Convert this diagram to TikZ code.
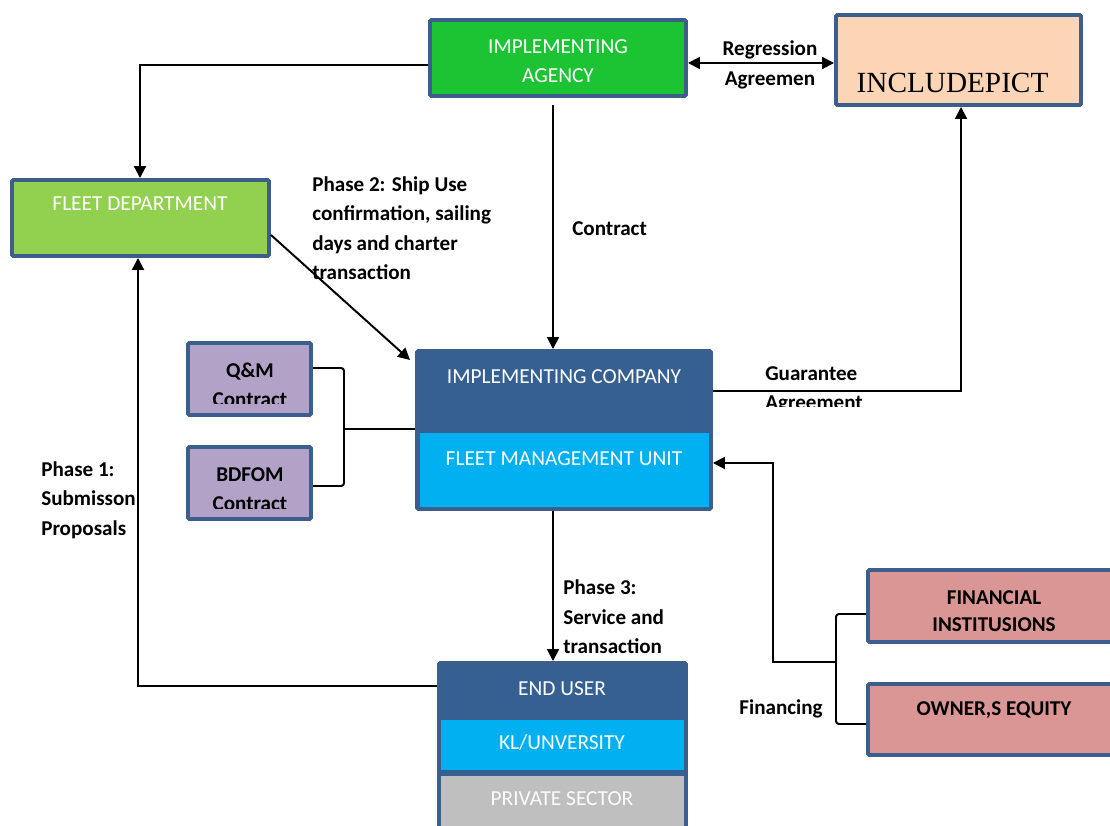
\documentclass[tikz,border=0pt]{standalone}
\usepackage{fontspec}
\setmainfont{Carlito}
\newfontfamily\pictfont{Liberation Serif}
\usetikzlibrary{arrows.meta,calc}
\definecolor{bord}{HTML}{3B5E8C}
\definecolor{agreen}{HTML}{1CC434}
\definecolor{fgreen}{HTML}{92D050}
\definecolor{peach}{HTML}{FBD5B5}
\definecolor{lilac}{HTML}{B3A2C7}
\definecolor{dblue}{HTML}{376092}
\definecolor{cyanb}{HTML}{00B0F0}
\definecolor{lgray}{HTML}{BFBFBF}
\definecolor{rose}{HTML}{D99694}
\begin{document}
\begin{tikzpicture}[x=0.025cm,y=-0.025cm,
  box/.style 2 args={draw=bord,line width=2.8pt,inner sep=0pt,rounded corners=1pt,
    minimum width=#1*0.025cm,minimum height=#2*0.025cm},
  plain/.style 2 args={inner sep=0pt,minimum width=#1*0.025cm,minimum height=#2*0.025cm},
  lbl/.style={font=\fontsize{15}{21}\selectfont\bfseries,inner sep=0pt},
  wt/.style={text=white,font=\fontsize{15.2}{21}\selectfont,inner sep=0pt},
  ln/.style={line width=1.4pt},
  arr/.style={line width=1.4pt,-{Triangle[length=8.5pt,width=8.5pt]}},
  darr/.style={line width=1.4pt,{Triangle[length=8.5pt,width=8.5pt]}-{Triangle[length=8.5pt,width=8.5pt]}}]
\useasboundingbox (0,0) rectangle (1110,826);
\clip (0,0) rectangle (1110,826);

% boxes
\node[box={256}{76},fill=agreen] (ag) at (558,58) {};
\node[box={245}{90},fill=peach] (inc) at (958.5,60) {};
\node[box={257}{76},fill=fgreen] (fd) at (140.5,218) {};
\node[box={123}{72},fill=lilac] (qm) at (249.5,379) {};
\node[box={123}{72},fill=lilac] (bd) at (249.5,483) {};
\node[box={294}{158},fill=dblue] (ic) at (564,430) {};
\node[plain={289}{74},fill=cyanb] (fmu) at (564.5,470) {};
\node[box={247}{177},fill=dblue] (eu) at (562.5,751.5) {};
\node[plain={243}{50},fill=cyanb] (kl) at (562.5,745) {};
\node[plain={243}{60},fill=lgray] (ps) at (562.5,806) {};
\node[box={254}{72},fill=rose] (fin) at (995,606) {};
\node[box={254}{71},fill=rose] (own) at (995,719.5) {};

% box texts
\node[wt,align=center] (agt) at (558,61) {IMPLEMENTING\\AGENCY};
\node[font=\pictfont\fontsize{20.8}{24}\selectfont,inner sep=0pt] (inct) at (952.5,83) {INCLUDEPICT};
\node[wt] (fdt) at (140,204) {FLEET DEPARTMENT};
\node[wt] (ict) at (564,377) {IMPLEMENTING COMPANY};
\node[wt] (fmut) at (564,459) {FLEET MANAGEMENT UNIT};
\node[wt] (eut) at (562,689) {END USER};
\node[wt] (klt) at (562,743) {KL/UNVERSITY};
\node[wt,text=white!95!lgray] (pst) at (562,799) {PRIVATE SECTOR};
\node[lbl,align=center] (fint) at (994,611) {FINANCIAL\\[-2pt]INSTITUSIONS};
\node[lbl] (ownt) at (994,710) {OWNER,S EQUITY};
\begin{scope}
\clip (186,340) rectangle (320,403);
\node[lbl,align=center] (qmt) at (250,385) {Q\&M\\Contract};
\end{scope}
\begin{scope}
\clip (186,444) rectangle (320,508);
\node[lbl,align=center] (bdt) at (250,489) {BDFOM\\Contract};
\end{scope}

% connectors
\draw[arr] ($(ag.west)+(0,7)$) -| ($(fd.north)+(-0.5,0)$);
\draw[darr] ($(ag.east)+(0,5)$) -- ($(inc.west)+(0,3)$);
\coordinate (c1) at (553,105);
\draw[arr] (c1) -- (c1 |- ic.north);
\draw[arr] ($(fd.east)+(0,17)$) -- ($(ic.north west)+(-5,11)$);
\draw[arr] ($(ic.east)+(0,-39)$) -| ($(inc.south)+(2.5,0)$);
\coordinate (b1) at (344,429);
\draw[ln,rounded corners=2pt] ($(qm.east)+(0,-11)$) -| (b1) |- ($(bd.east)+(0,3)$);
\draw[ln] (b1) -- (b1 -| ic.west);
\coordinate (b2) at (836,662);
\draw[ln,rounded corners=2pt] ($(fin.west)+(0,8)$) -| (b2) |- ($(own.west)+(0,4.5)$);
\coordinate (b3) at (773,463);
\draw[arr] (b2) -| (b3) -- (b3 -| ic.east);
\coordinate (p3) at ($(ic.south)+(-11,0)$);
\draw[arr] (p3) -- (p3 |- eu.north);
\draw[arr] ($(eu.west)+(0,-65.5)$) -| ($(fd.south)+(-2.5,0)$);

% labels
\node[lbl,align=center] (reg) at (770,65) {Regression\\Agreemen};
\node[lbl,anchor=west] (con) at (572,229) {Contract};
\node[lbl,align=left,anchor=west] (ph2) at (312,228) {Phase 2: Ship Use\\confirmation, sailing\\days and charter\\transaction};
\node[lbl,align=left,anchor=west] (ph3) at (563,617) {Phase 3:\\Service and\\transaction};
\node[lbl,align=left,anchor=west] (ph1) at (41,500) {Phase 1:\\Submisson\\Proposals};
\node[lbl] (finl) at (781,709) {Financing};
\begin{scope}
\clip (700,350) rectangle (900,406);
\node[lbl,align=left,anchor=west] (gua) at (765,390) {Guarantee\\Agreement};
\end{scope}
\end{tikzpicture}
\end{document}
